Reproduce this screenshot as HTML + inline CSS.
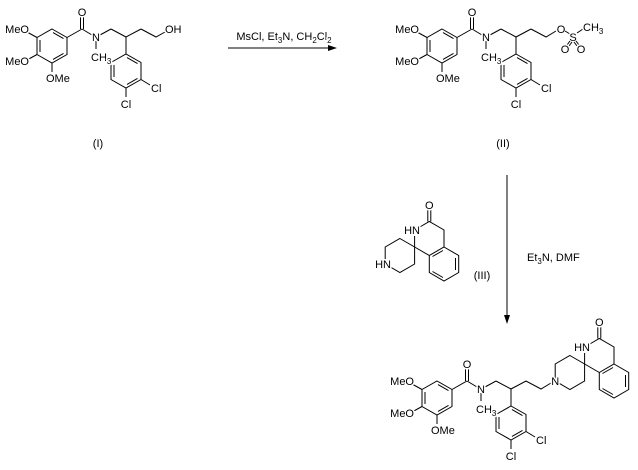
<!DOCTYPE html>
<html><head><meta charset="utf-8"><style>
html,body{margin:0;padding:0;background:#fff}
svg{display:block}
text{font-family:"Liberation Sans",Arial,sans-serif;font-size:11px;fill:#000;paint-order:stroke;stroke:#fff;stroke-width:3px;stroke-linejoin:round}
line,polyline,polygon.r{stroke:#000;stroke-width:1;fill:none}
</style></head><body>
<svg width="638" height="470" viewBox="0 0 638 470" xmlns="http://www.w3.org/2000/svg">
<defs>
<g id="core">
<polygon class="r" points="52,29 67,37.5 67,54.5 52,63 37,54.5 37,37.5"/>
<line x1="53" y1="32.6" x2="63.5" y2="38.6"/>
<line x1="40" y1="40" x2="40" y2="52"/>
<line x1="63.5" y1="53.4" x2="53" y2="59.4"/>
<line x1="67" y1="37.5" x2="82" y2="29"/>
<line x1="80.5" y1="29" x2="80.5" y2="17"/>
<line x1="83.5" y1="29" x2="83.5" y2="17"/>
<line x1="82" y1="29" x2="92" y2="35"/>
<line x1="96" y1="41" x2="96" y2="49"/>
<line x1="100" y1="35" x2="111" y2="29"/>
<polyline points="111,29 126,37 141,29"/>
<line x1="126" y1="37" x2="126" y2="54"/>
<polygon class="r" points="126,54 141,62.5 141,79.5 126,88 111,79.5 111,62.5"/>
<line x1="114" y1="65" x2="114" y2="77"/>
<line x1="127" y1="57.6" x2="137.5" y2="63.6"/>
<line x1="137.5" y1="78.4" x2="127" y2="84.4"/>
<line x1="141" y1="79.5" x2="150" y2="85"/>
<line x1="126" y1="88" x2="126" y2="97"/>
<line x1="37" y1="37.5" x2="27" y2="32"/>
<line x1="37" y1="54.5" x2="27" y2="60"/>
<line x1="52" y1="63" x2="52" y2="72"/>
<text x="82" y="16" text-anchor="middle">O</text>
<text x="96" y="41" text-anchor="middle">N</text>
<text x="91" y="61">CH<tspan dy="3" font-size="8">3</tspan></text>
<text x="151" y="92">Cl</text>
<text x="126" y="108" text-anchor="middle">Cl</text>
<text x="29" y="33" text-anchor="end">MeO</text>
<text x="29" y="65" text-anchor="end">MeO</text>
<text x="46" y="82">OMe</text>
</g>
<g id="spiro">
<polygon class="r" points="399.9,238.5 414.6,247 414.6,264 399.9,272.5 385.2,264 385.2,247"/>
<polyline points="414.6,247 414.6,236"/>
<polyline points="419,227.5 429.3,221.5 444,230 444,247"/>
<line x1="427.8" y1="221.5" x2="427.8" y2="210"/>
<line x1="430.8" y1="221.5" x2="430.8" y2="210"/>
<line x1="414.6" y1="247" x2="429.3" y2="255.5"/>
<polygon class="r" points="444,247 458.7,255.5 458.7,272.5 444,281 429.3,272.5 429.3,255.5"/>
<line x1="455.5" y1="258" x2="455.5" y2="270"/>
<line x1="443" y1="277.5" x2="432.5" y2="271.5"/>
<line x1="432.5" y1="256.5" x2="443" y2="250.5"/>
<text x="429.3" y="209" text-anchor="middle">O</text>
<text x="420" y="234" text-anchor="end">HN</text>
</g>
</defs>

<!-- (I) -->
<use href="#core"/>
<polyline points="141,29 156,37 165,32"/>
<text x="165" y="33">OH</text>
<text x="98" y="147" text-anchor="middle">(I)</text>

<!-- arrow 1 -->
<text x="284" y="40" text-anchor="middle">MsCl, Et<tspan dy="3" font-size="8">3</tspan><tspan dy="-3">N, CH</tspan><tspan dy="3" font-size="8">2</tspan><tspan dy="-3">Cl</tspan><tspan dy="3" font-size="8">2</tspan></text>
<line x1="228" y1="48" x2="330" y2="48"/>
<polygon points="337,48 328,45 328,51" fill="#000"/>

<!-- (II) -->
<g transform="translate(390,0)">
<use href="#core"/>
<polyline points="141,29 156,37 166,31"/>
<text x="171" y="33" text-anchor="middle">O</text>
<line x1="175" y1="31" x2="180" y2="34"/>
<text x="183" y="41" text-anchor="middle">S</text>
<line x1="187" y1="33" x2="193" y2="29"/>
<text x="193" y="31">CH<tspan dy="3" font-size="8">3</tspan></text>
<line x1="180" y1="41" x2="177" y2="45"/>
<line x1="182" y1="42" x2="179" y2="46"/>
<line x1="186" y1="41" x2="189" y2="45"/>
<line x1="184" y1="42" x2="187" y2="46"/>
<text x="175" y="53" text-anchor="middle">O</text>
<text x="191" y="53" text-anchor="middle">O</text>
<text x="113" y="147" text-anchor="middle">(II)</text>
</g>

<!-- (III) -->
<use href="#spiro"/>
<text x="391" y="268" text-anchor="end">HN</text>
<text x="482" y="279" text-anchor="middle">(III)</text>

<!-- arrow 2 -->
<line x1="507" y1="175" x2="507" y2="316"/>
<polygon points="507,324 504,315 510,315" fill="#000"/>
<text x="527" y="261">Et<tspan dy="3" font-size="8">3</tspan><tspan dy="-3">N, DMF</tspan></text>

<!-- product -->
<g transform="translate(385,352)">
<use href="#core"/>
<polyline points="141,29 156,37 166,31"/>
</g>
<g transform="translate(170,117)">
<use href="#spiro"/>
<text x="385.2" y="268" text-anchor="middle">N</text>
</g>
</svg>
</body></html>
